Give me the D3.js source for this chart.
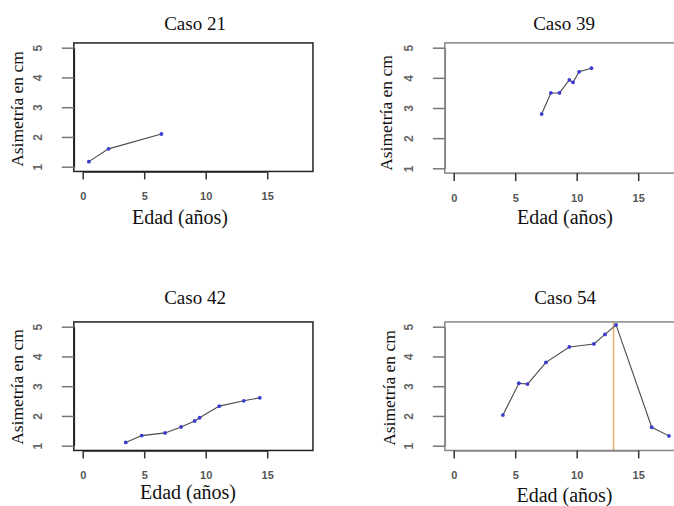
<!DOCTYPE html>
<html>
<head>
<meta charset="utf-8">
<script src="https://cdn.jsdelivr.net/npm/d3@7"></script>
<style>
  body { margin: 0; background: #fff; }
</style>
</head>
<body>
<svg width="674" height="506"></svg>
<script>
// valores
var titulos = ["Caso 21", "Caso 39", "Caso 42", "Caso 54"];
var xTicks = [0, 5, 10, 15];
var yTicks = [1, 2, 3, 4, 5];

var edad21 = [0.5, 2.1, 6.4];
var asim21 = [1.17, 1.6, 2.1];

var edad39 = [7.15, 7.9, 8.6, 9.4, 9.7, 10.2, 11.2];
var asim39 = [2.8, 3.5, 3.5, 3.93, 3.85, 4.2, 4.32];

var edad42 = [3.5, 4.8, 6.7, 8.0, 9.1, 9.5, 11.1, 13.1, 14.4];
var asim42 = [1.11, 1.34, 1.43, 1.63, 1.83, 1.94, 2.33, 2.51, 2.61];

var edad54 = [4.0, 5.3, 6.0, 7.5, 9.4, 11.4, 12.3, 13.2, 16.1, 17.5];
var asim54 = [2.03, 3.1, 3.07, 3.8, 4.32, 4.42, 4.74, 5.06, 1.62, 1.33];
var marca54 = [13];

var xlim = [0, 18], ylim = [1, 5];
var serif = '"Liberation Serif", "Times New Roman", serif';
var sans = '"Liberation Sans", Arial, sans-serif';

var svg = d3.select("svg");

// posicion de cada panel (pixeles); ty, ey = linea base, ax = linea base del texto girado
var paneles = [
  {x0: 82.7,  y5: 47.7,  y1: 166.7, tx: 195, ty: 30,    ex: 180,   ey: 224,   ax: 23,  ay: 109, caja: "#222"},
  {x0: 453.7, y5: 47.7,  y1: 168.3, tx: 564, ty: 30,    ex: 565,   ey: 224,   ax: 392, ay: 113, caja: "#888"},
  {x0: 82.7,  y5: 326.7, y1: 445.7, tx: 195, ty: 304,   ex: 188,   ey: 499,   ax: 23,  ay: 387, caja: "#222"},
  {x0: 453.7, y5: 326.7, y1: 445.7, tx: 565, ty: 303.5, ex: 564.5, ey: 502,   ax: 395, ay: 388, caja: "#888"}
];
var series = [[edad21, asim21, []], [edad39, asim39, []], [edad42, asim42, []], [edad54, asim54, marca54]];

paneles.forEach(function(p, i) {
  var x = d3.scaleLinear().domain(xlim).range([p.x0, p.x0 + 18 * 12.3]);
  var y = d3.scaleLinear().domain(ylim).range([p.y1, p.y5]);
  var dx = (xlim[1] - xlim[0]) * 0.04, dy = (ylim[1] - ylim[0]) * 0.04;
  var g = svg.append("g");

  var bx0 = x(xlim[0] - dx), bx1 = x(xlim[1] + dx);
  var by0 = y(ylim[1] + dy), by1 = y(ylim[0] - dy);

  // marca vertical
  var d = series[i];
  d[2].forEach(function(v) {
    g.append("line")
      .attr("x1", x(v)).attr("x2", x(v))
      .attr("y1", by0).attr("y2", by1)
      .attr("stroke", "#e2b577").attr("stroke-width", 1.6);
  });

  // caja
  g.append("rect")
    .attr("x", bx0).attr("y", by0)
    .attr("width", bx1 - bx0).attr("height", by1 - by0)
    .attr("fill", "none").attr("stroke", p.caja).attr("stroke-width", 1.5);

  // eje x
  var xa = x.copy().domain([xTicks[0], xTicks[xTicks.length - 1]])
    .range([x(xTicks[0]), x(xTicks[xTicks.length - 1])]);
  var gx = g.append("g")
    .attr("transform", "translate(0," + by1 + ")")
    .call(d3.axisBottom(xa).tickValues(xTicks).tickFormat(d3.format("d")).tickSize(8).tickSizeOuter(0));
  gx.select(".domain").attr("stroke", p.caja).attr("stroke-width", 1.5);
  gx.selectAll(".tick line").attr("stroke", "#333").attr("stroke-width", 1.5);
  gx.selectAll(".tick text")
    .style("font-family", sans).style("font-weight", "bold")
    .attr("fill", "#555").attr("font-size", 11)
    .attr("dy", "0.32em").attr("y", 25);

  // eje y
  var gy = g.append("g")
    .attr("transform", "translate(" + bx0 + ",0)")
    .call(d3.axisLeft(y).tickValues(yTicks).tickFormat(d3.format("d")).tickSize(12).tickSizeOuter(0));
  gy.select(".domain").attr("stroke", p.caja).attr("stroke-width", 1.5);
  gy.selectAll(".tick line").attr("stroke", "#777").attr("stroke-width", 1.5);
  gy.selectAll(".tick text")
    .style("font-family", sans).style("font-weight", "bold")
    .attr("fill", "#666").attr("font-size", 12)
    .attr("x", null).attr("dy", null)
    .attr("text-anchor", "middle")
    .attr("dominant-baseline", "central")
    .attr("transform", "translate(-36,0) rotate(-90)");

  // linea y puntos
  var pts = d[0].map(function(e, k) { return [e, d[1][k]]; });
  var line = d3.line().x(function(v) { return x(v[0]); }).y(function(v) { return y(v[1]); });
  g.append("path").attr("d", line(pts))
    .attr("fill", "none").attr("stroke", "#4a4a4a").attr("stroke-width", 1.1);
  g.selectAll("circle.pt").data(pts).enter().append("circle")
    .attr("class", "pt")
    .attr("cx", function(v) { return x(v[0]); })
    .attr("cy", function(v) { return y(v[1]); })
    .attr("r", 1.9)
    .attr("fill", "#3b3bd0");

  // textos
  g.append("text")
    .style("font-family", serif).attr("fill", "#111")
    .attr("x", p.tx).attr("y", p.ty)
    .attr("text-anchor", "middle")
    .attr("font-size", 19).text(titulos[i]);
  g.append("text")
    .style("font-family", serif).attr("fill", "#111")
    .attr("x", p.ex).attr("y", p.ey)
    .attr("text-anchor", "middle")
    .attr("font-size", 20).text("Edad (años)");
  g.append("text")
    .style("font-family", serif).attr("fill", "#111")
    .attr("transform", "translate(" + p.ax + "," + p.ay + ") rotate(-90)")
    .attr("text-anchor", "middle")
    .attr("font-size", 17.5).text("Asimetría en cm");
});
</script>
</body>
</html>
